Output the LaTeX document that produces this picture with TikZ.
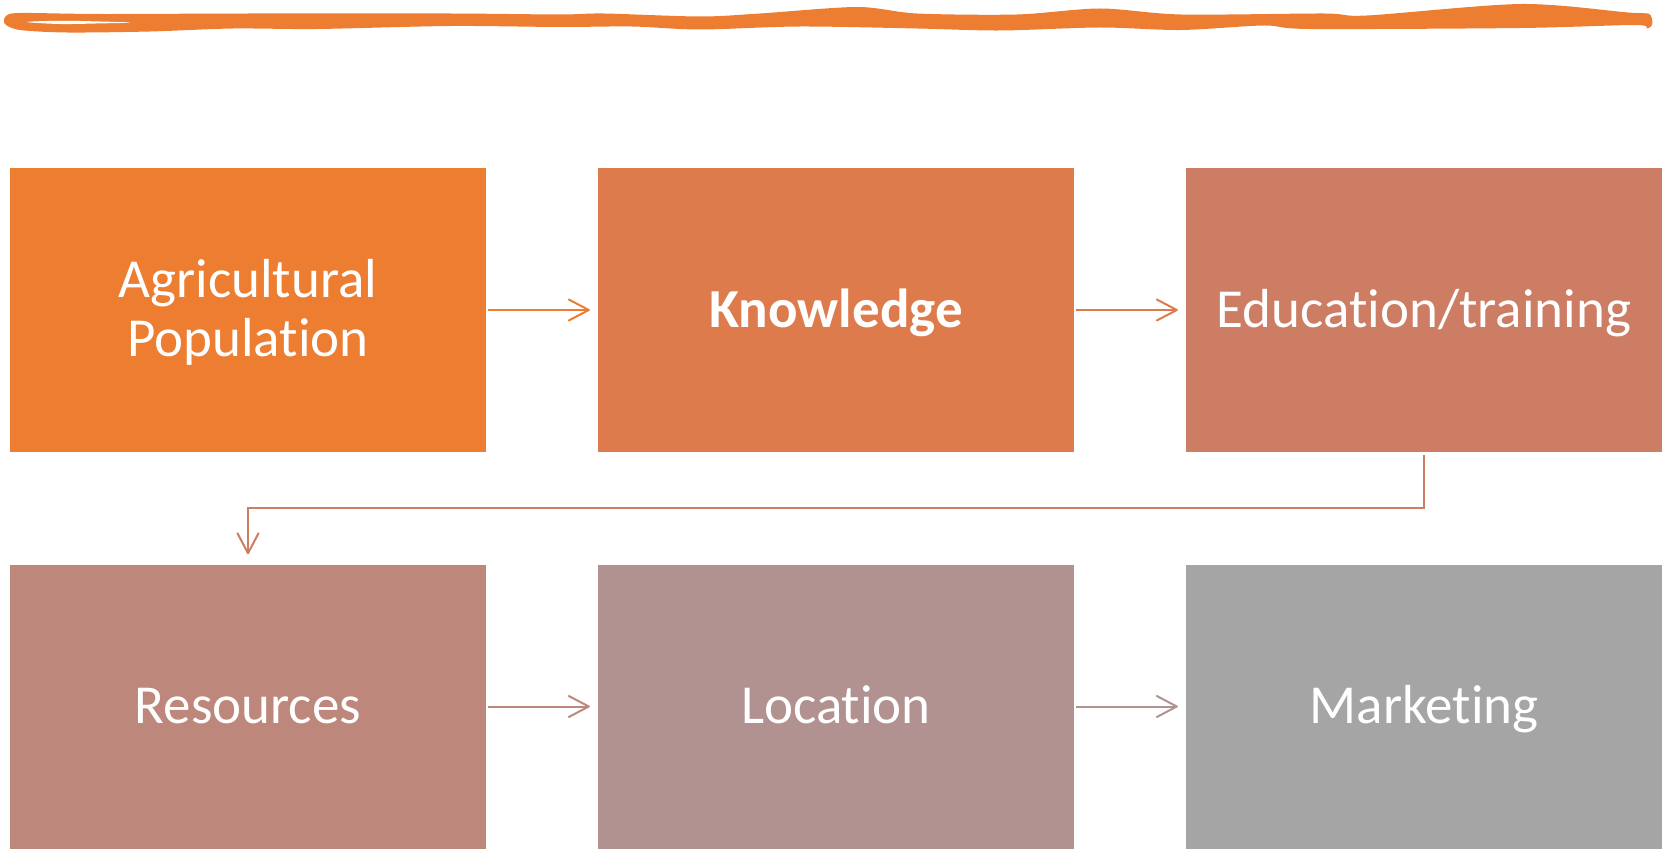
\documentclass[tikz,border=0pt]{standalone}
\usepackage{fontspec}
\setmainfont[Ligatures={NoCommon}]{Carlito}
\usetikzlibrary{arrows.meta}
\definecolor{cA}{RGB}{237,125,49}
\definecolor{cB}{RGB}{221,123,77}
\definecolor{cC}{RGB}{205,125,99}
\definecolor{cD}{RGB}{189,136,123}
\definecolor{cE}{RGB}{177,146,144}
\definecolor{cF}{RGB}{165,165,165}
\tikzset{
  box/.style={minimum width=476pt, minimum height=284pt, inner sep=0pt,
    text=white, align=center, font=\fontsize{55}{59}\selectfont},
  oneline/.style={text height=40pt, text depth=6pt},
  twoline/.style={text height=99pt, text depth=7pt},
  conn/.style={line width=2pt,
    -{Straight Barb[length=20pt,width=21pt,line cap=round,line join=round]}}
}
\begin{document}
\begin{tikzpicture}[x=1pt,y=-1pt]
\useasboundingbox (0,0) rectangle (1671,850);
% brush stroke
\fill[cA] plot[smooth cycle, tension=0.5] coordinates {
 (6,16) (20,13) (100,14) (250,13.5) (450,13.5) (560,14.5) (604,13.5) (700,16.5) (760,13.5) (857,7)
 (917,13.5) (1017,14.5) (1100,8.5) (1181,14.5) (1324,13.5) (1367,15.5) (1521,4) (1628,12.5)
 (1648,13.5) (1652,19) (1652,25) (1647,28.5) (1635,25) (1521,28) (1310,29) (1264,25.5)
 (1181,30) (1100,27.5) (1000,30.5) (917,28.5) (800,26.5) (700,29.5) (632,26.5) (560,27)
 (450,26) (317,29) (233,28.5) (150,31.5) (67,32.5) (20,30) (5,24)};
\fill[white] plot[smooth cycle, tension=0.6] coordinates {
 (27,22) (60,20.8) (100,21.5) (130,22.6) (100,23.4) (60,24)};
% boxes
\node[box, twoline, fill=cA] (a) at (248,310) {Agricultural\\Population};
\node[box, oneline, fill=cB] (b) at (836,310) {\bfseries Knowledge};
\node[box, oneline, fill=cC] (c) at (1424,310) {Education/training};
\node[box, oneline, fill=cD] (d) at (248,706.5) {Resources};
\node[box, oneline, fill=cE] (e) at (836,706.5) {Location};
\node[box, oneline, fill=cF] (f) at (1424,706.5) {Marketing};
% connectors
\draw[conn, cA] ([xshift=2pt]a.east) -- ([xshift=-8pt]b.west);
\draw[conn, cB] ([xshift=2pt]b.east) -- ([xshift=-8pt]c.west);
\draw[conn, cC] ([yshift=-3pt]c.south) -- ++(0,-53pt) -| ([yshift=10pt]d.north);
\draw[conn, cD] ([xshift=2pt]d.east) -- ([xshift=-8pt]e.west);
\draw[conn, cE] ([xshift=2pt]e.east) -- ([xshift=-8pt]f.west);
\end{tikzpicture}
\end{document}
